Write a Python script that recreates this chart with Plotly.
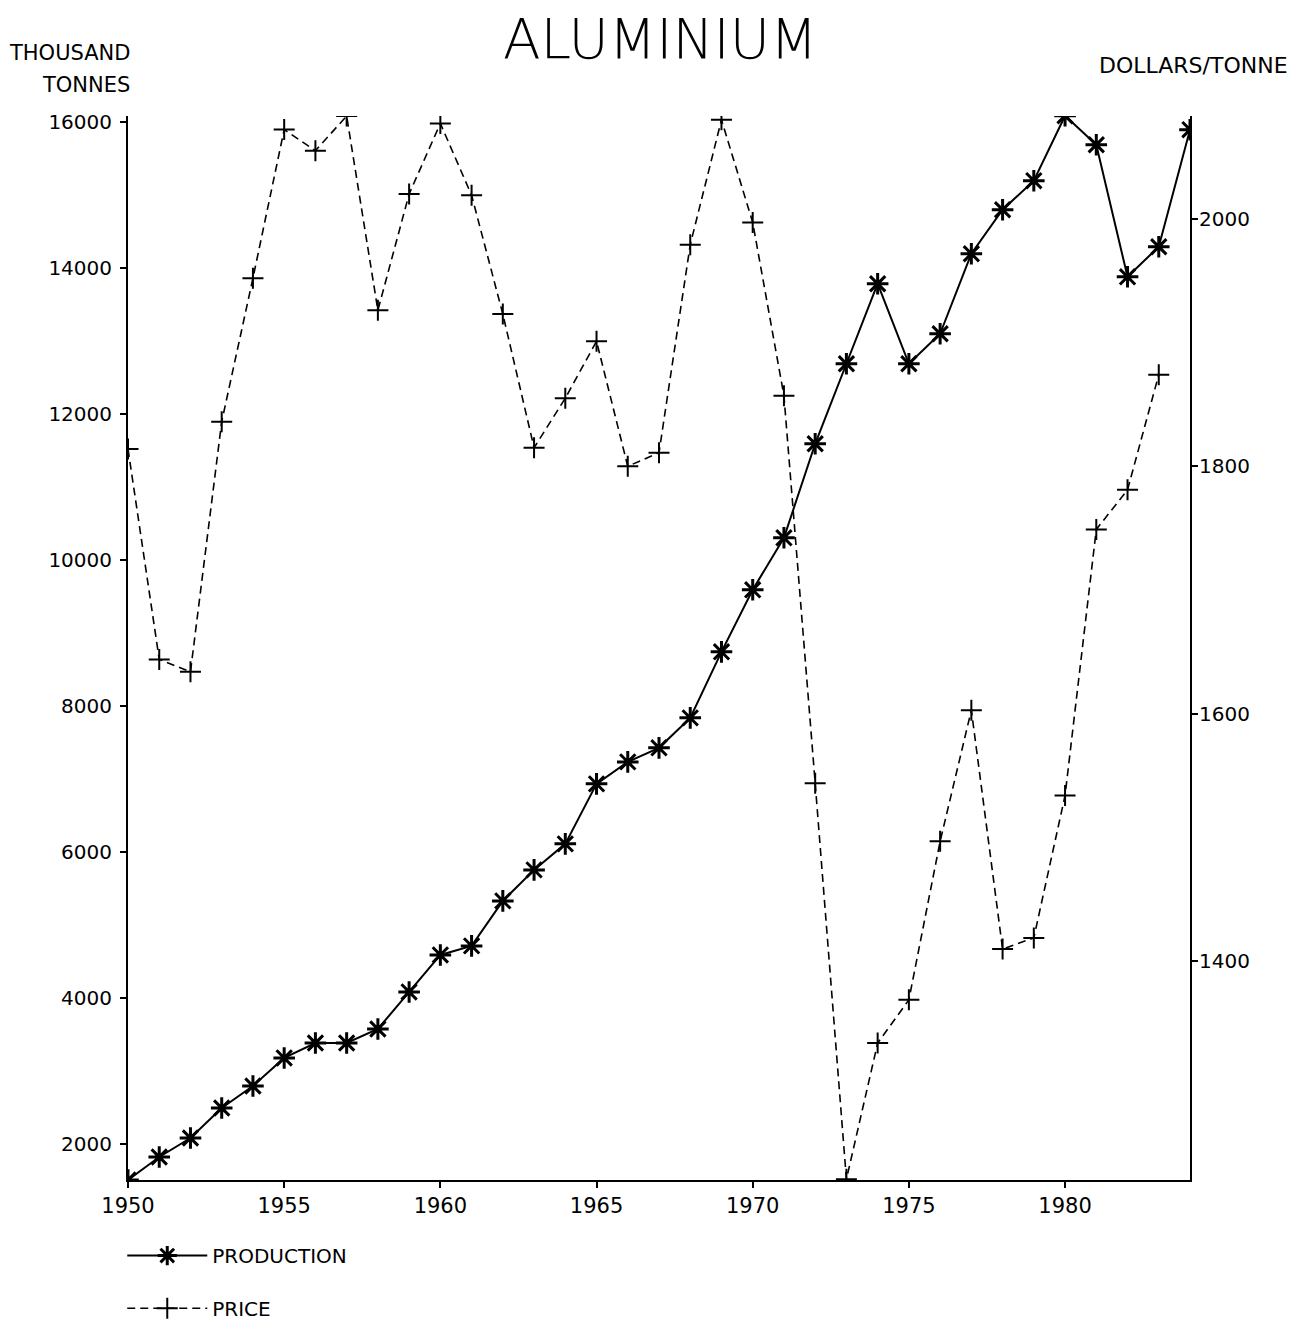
import plotly.graph_objects as go

years = list(range(1950, 1985))
production = [1500, 1815, 2076, 2487, 2789, 3173, 3378, 3378, 3570, 4078,
              4585, 4709, 5326, 5751, 6108, 6930, 7231, 7424, 7835, 8740,
              9590, 10303, 11592, 12689, 13786, 12689, 13100, 14197, 14800, 15198,
              16089, 15691, 13881, 14293, 15897]
price_years = list(range(1950, 1984))
price = [1814, 1644, 1634, 1836, 1952, 2072, 2055, 2083, 1926, 2020,
         2077, 2019, 1923, 1815, 1855, 1901, 1800, 1811, 1979, 2080,
         1997, 1857, 1544, 1224, 1334, 1369, 1497, 1603, 1410, 1419,
         1534, 1749, 1781, 1874]

left_ticks = [2000, 4000, 6000, 8000, 10000, 12000, 14000, 16000]
right_ticks = [1400, 1600, 1800, 2000]
x_ticks = [1950, 1955, 1960, 1965, 1970, 1975, 1980]

FONT = "DejaVu Sans"

fig = go.Figure()
fig.add_trace(go.Scatter(
    x=years, y=production, name="PRODUCTION", mode="lines+markers",
    line=dict(color="black", width=2),
    marker=dict(symbol="asterisk-open", size=18, color="black",
                line=dict(color="black", width=3)),
    yaxis="y", legend="legend"))
fig.add_trace(go.Scatter(
    x=price_years, y=price, name="PRICE", mode="lines+markers",
    line=dict(color="black", width=1.6, dash="8px,5px"),
    marker=dict(symbol="cross-thin-open", size=15, color="black",
                line=dict(color="black", width=2)),
    yaxis="y2", legend="legend2"))

leg_common = dict(xanchor="left", yanchor="middle", orientation="v",
                  font=dict(size=20, family=FONT), itemwidth=80,
                  bgcolor="rgba(0,0,0,0)", borderwidth=0)

fig.update_layout(
    width=1294, height=1315,
    paper_bgcolor="white", plot_bgcolor="white",
    margin=dict(l=120, r=112, t=108, b=143, autoexpand=False),
    font=dict(family=FONT, size=18, color="black"),
    showlegend=True,
    legend=dict(x=-0.0054, y=-0.071, **leg_common),
    legend2=dict(x=-0.0054, y=-0.1205, **leg_common),
    xaxis=dict(range=[1950, 1984], tickvals=x_ticks, showgrid=False,
               zeroline=False, showline=True, linecolor="black", linewidth=2,
               ticks="outside", ticklen=6, tickwidth=1.5, tickcolor="black",
               tickfont=dict(size=21), automargin=False),
    yaxis=dict(range=[1500, 16085], tickvals=left_ticks,
               ticktext=[str(v) for v in left_ticks], showgrid=False,
               zeroline=False, showline=True, linecolor="black", linewidth=2,
               ticks="outside", ticklen=6, tickwidth=1.5, tickcolor="black",
               tickfont=dict(size=20), ticklabelstandoff=4, automargin=False),
    yaxis2=dict(range=[1223.4, 2083], tickvals=right_ticks,
                ticktext=[str(v) for v in right_ticks], overlaying="y",
                side="right", showgrid=False, zeroline=False, showline=True,
                linecolor="black", linewidth=2, ticks="outside", ticklen=6,
                tickwidth=1.5, tickcolor="black", tickfont=dict(size=20),
                ticklabelstandoff=-3, automargin=False),
)

fig.add_annotation(text="ALUMINIUM", x=0.501, y=1, xref="paper", yref="paper",
                   showarrow=False, font=dict(size=55, family=FONT, weight=300),
                   xanchor="center", yanchor="bottom", yshift=44, borderpad=0)
fig.add_annotation(text="THOUSAND", x=0.0, y=1, xref="paper", yref="paper",
                   showarrow=False, xanchor="right", yanchor="middle",
                   font=dict(size=21, family=FONT), yshift=63, xshift=4)
fig.add_annotation(text="TONNES", x=0.0, y=1, xref="paper", yref="paper",
                   showarrow=False, xanchor="right", yanchor="middle",
                   font=dict(size=21, family=FONT), yshift=31, xshift=4)
fig.add_annotation(text="DOLLARS/TONNE", x=1.0, y=1, xref="paper", yref="paper",
                   showarrow=False, xanchor="right", yanchor="middle",
                   font=dict(size=22, family=FONT), xshift=100, yshift=51)

fig.write_html("out.html")
